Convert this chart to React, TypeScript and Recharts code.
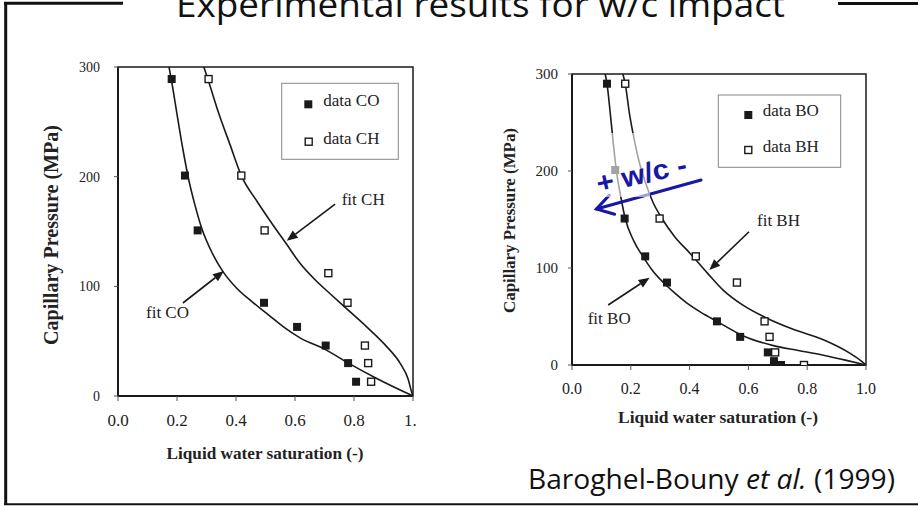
import React from "react";
import {
  ComposedChart,
  Line,
  Scatter,
  XAxis,
  YAxis,
  ReferenceArea,
  ReferenceLine,
} from "recharts";

// saturation ticks / pressure ticks (MPa)
const xTicks = [0, 0.2, 0.4, 0.6, 0.8, 1];
const yTicks = [0, 100, 200, 300];

// left panel: CO / CH
const dataCO = [
  { x: 0.182, y: 289 },
  { x: 0.227, y: 201 },
  { x: 0.27, y: 151 },
  { x: 0.495, y: 85 },
  { x: 0.607, y: 63 },
  { x: 0.704, y: 46 },
  { x: 0.78, y: 30 },
  { x: 0.807, y: 13 },
];
const dataCH = [
  { x: 0.307, y: 289 },
  { x: 0.418, y: 201 },
  { x: 0.497, y: 151 },
  { x: 0.713, y: 112 },
  { x: 0.778, y: 85 },
  { x: 0.837, y: 46 },
  { x: 0.848, y: 30 },
  { x: 0.858, y: 13 },
];
const fitCO = [
  { x: 0.173, y: 300 },
  { x: 0.185, y: 282 },
  { x: 0.2, y: 257 },
  { x: 0.22, y: 225 },
  { x: 0.24, y: 197 },
  { x: 0.26, y: 175 },
  { x: 0.285, y: 152 },
  { x: 0.32, y: 130 },
  { x: 0.357, y: 113 },
  { x: 0.4, y: 99 },
  { x: 0.459, y: 85 },
  { x: 0.51, y: 74 },
  { x: 0.561, y: 63 },
  { x: 0.617, y: 53 },
  { x: 0.702, y: 42.5 },
  { x: 0.781, y: 30 },
  { x: 0.877, y: 16 },
  { x: 1.0, y: 0 },
];
const fitCH = [
  { x: 0.291, y: 300 },
  { x: 0.307, y: 287 },
  { x: 0.34, y: 259 },
  { x: 0.38, y: 229 },
  { x: 0.418, y: 201 },
  { x: 0.47, y: 178 },
  { x: 0.52, y: 158 },
  { x: 0.57, y: 139 },
  { x: 0.617, y: 121 },
  { x: 0.668, y: 106 },
  { x: 0.72, y: 93 },
  { x: 0.769, y: 81 },
  { x: 0.843, y: 63 },
  { x: 0.911, y: 45 },
  { x: 0.956, y: 30 },
  { x: 0.984, y: 15 },
  { x: 0.996, y: 3 },
  { x: 1.0, y: 0 },
];

// right panel: BO / BH
const dataBO = [
  { x: 0.119, y: 290 },
  { x: 0.147, y: 201 },
  { x: 0.179, y: 151 },
  { x: 0.249, y: 112 },
  { x: 0.323, y: 85 },
  { x: 0.493, y: 45 },
  { x: 0.572, y: 29 },
  { x: 0.666, y: 13 },
  { x: 0.687, y: 4 },
  { x: 0.711, y: 0 },
];
const dataBH = [
  { x: 0.181, y: 290 },
  { x: 0.298, y: 151 },
  { x: 0.421, y: 112 },
  { x: 0.561, y: 85 },
  { x: 0.655, y: 45 },
  { x: 0.672, y: 29 },
  { x: 0.691, y: 13 },
  { x: 0.789, y: 0 },
];
const fitBO = [
  { x: 0.113, y: 300 },
  { x: 0.119, y: 290 },
  { x: 0.13, y: 260 },
  { x: 0.14, y: 230 },
  { x: 0.151, y: 200 },
  { x: 0.165, y: 175 },
  { x: 0.181, y: 151 },
  { x: 0.21, y: 128 },
  { x: 0.243, y: 111 },
  { x: 0.275, y: 97 },
  { x: 0.311, y: 85 },
  { x: 0.35, y: 74 },
  { x: 0.39, y: 64 },
  { x: 0.44, y: 54 },
  { x: 0.493, y: 45 },
  { x: 0.583, y: 30 },
  { x: 0.685, y: 20 },
  { x: 0.77, y: 15 },
  { x: 0.855, y: 10 },
  { x: 0.93, y: 5 },
  { x: 1.0, y: 0 },
];
const fitBH = [
  { x: 0.173, y: 300 },
  { x: 0.181, y: 290 },
  { x: 0.195, y: 260 },
  { x: 0.21, y: 235 },
  { x: 0.228, y: 210 },
  { x: 0.25, y: 188 },
  { x: 0.275, y: 168 },
  { x: 0.306, y: 151 },
  { x: 0.35, y: 132 },
  { x: 0.402, y: 115 },
  { x: 0.46, y: 95 },
  { x: 0.515, y: 77 },
  { x: 0.58, y: 62 },
  { x: 0.651, y: 50 },
  { x: 0.75, y: 37 },
  { x: 0.855, y: 26 },
  { x: 0.946, y: 12 },
  { x: 0.98, y: 5 },
  { x: 1.0, y: 0 },
];

// annotation arrows (tail -> tip), in data units
const arrowCH = [{ x: 0.736, y: 175 }, { x: 0.572, y: 141.6 }];
const arrowCO = [{ x: 0.22, y: 84.8 }, { x: 0.359, y: 114 }];
const arrowBH = [{ x: 0.602, y: 137.4 }, { x: 0.467, y: 97.9 }];
const arrowBO = [{ x: 0.123, y: 61.9 }, { x: 0.264, y: 90 }];
const arrowWC = [{ x: 0.439, y: 190.7 }, { x: 0.083, y: 160.8 }];

const serif = "'Liberation Serif', 'DejaVu Serif', serif";
const ink = "#1a1a1a";
const blue = "#1818a4";

const filledSq = (s: number) => (p: any) => (
  <rect x={p.cx - s / 2} y={p.cy - s / 2} width={s} height={s} fill={ink} />
);
const openSq = (s: number) => (p: any) => (
  <rect
    x={p.cx - s / 2}
    y={p.cy - s / 2}
    width={s}
    height={s}
    fill="#fff"
    stroke={ink}
    strokeWidth={1.4}
  />
);

const arrow = (p: any) => {
  const { x1, y1, x2, y2 } = p;
  const a = Math.atan2(y2 - y1, x2 - x1);
  const L = 11;
  const W = 4.5;
  const bx = x2 - L * Math.cos(a);
  const by = y2 - L * Math.sin(a);
  const nx = -Math.sin(a) * W;
  const ny = Math.cos(a) * W;
  return (
    <g>
      <line x1={x1} y1={y1} x2={bx} y2={by} stroke={ink} strokeWidth={1.6} />
      <polygon
        points={`${x2},${y2} ${bx + nx},${by + ny} ${bx - nx},${by - ny}`}
        fill={ink}
      />
    </g>
  );
};

const blueArrow = (p: any) => {
  const { x1, y1, x2, y2 } = p;
  const a = Math.atan2(y2 - y1, x2 - x1);
  const L = 19;
  const s = 0.55;
  const ax = x2 - L * Math.cos(a - s);
  const ay = y2 - L * Math.sin(a - s);
  const bx = x2 - L * Math.cos(a + s);
  const by = y2 - L * Math.sin(a + s);
  return (
    <g stroke={blue} strokeWidth={3} fill="none" strokeLinecap="round">
      <line x1={x1} y1={y1} x2={x2} y2={y2} />
      <polyline points={`${ax},${ay} ${x2},${y2} ${bx},${by}`} />
    </g>
  );
};

const xTick = (fs: number, cut: boolean) => (p: any) => {
  const v = p.payload.value;
  const last = cut && v === 1;
  return (
    <text
      x={last ? p.x - 9 : p.x}
      y={p.y}
      dy="0.71em"
      textAnchor={last ? "start" : "middle"}
      fontFamily={serif}
      fontSize={fs}
      fill="#222"
    >
      {last ? "1." : v.toFixed(1)}
    </text>
  );
};

function Panel(props: any) {
  const {
    left, width, margin, yTickSize, yTickMargin, xFont, cut,
    fitA, fitB, dotsA, dotsB, sq, arrows, extra,
  } = props;
  return (
    <div style={{ position: "absolute", left, top: 0 }}>
      <ComposedChart width={width} height={506} margin={margin}>
        <XAxis
          type="number"
          dataKey="x"
          domain={[0, 1]}
          ticks={xTicks}
          height={30}
          tickSize={5}
          tickMargin={13}
          axisLine={{ stroke: ink, strokeWidth: 2 }}
          tickLine={{ stroke: "#555" }}
          tick={xTick(xFont, cut)}
          allowDataOverflow
        />
        <YAxis
          type="number"
          dataKey="y"
          domain={[0, 300]}
          ticks={yTicks}
          width={60}
          tickSize={4}
          tickMargin={yTickMargin}
          axisLine={{ stroke: ink, strokeWidth: 2 }}
          tickLine={{ stroke: "#555" }}
          tick={{ fontFamily: serif, fontSize: yTickSize, fill: "#222" }}
          allowDataOverflow
        />
        <ReferenceArea
          x1={0}
          x2={1}
          y1={0}
          y2={300}
          fill="none"
          fillOpacity={0}
          stroke={ink}
          strokeWidth={1.5}
        />
        <Line data={fitA} dataKey="y" type="monotone" stroke={ink} strokeWidth={1.6} dot={false} isAnimationActive={false} />
        <Line data={fitB} dataKey="y" type="monotone" stroke={ink} strokeWidth={1.6} dot={false} isAnimationActive={false} />
        <Scatter data={dotsA} dataKey="y" shape={filledSq(sq)} isAnimationActive={false} />
        <Scatter data={dotsB} dataKey="y" shape={openSq(sq - 1)} isAnimationActive={false} />
        {arrows.map((seg: any, i: number) => (
          <ReferenceLine key={i} segment={seg} shape={arrow} />
        ))}
        {extra}
      </ComposedChart>
    </div>
  );
}

export default function App() {
  return (
    <div
      style={{
        position: "absolute",
        left: 0,
        top: 0,
        width: 918,
        height: 506,
        background: "#fff",
        overflow: "hidden",
      }}
    >
      <Panel
        left={0}
        width={460}
        margin={{ top: 67, right: 47, bottom: 80, left: 58 }}
        yTickSize={14}
        yTickMargin={14}
        xFont={17}
        cut
        fitA={fitCO}
        fitB={fitCH}
        dotsA={dataCO}
        dotsB={dataCH}
        sq={8}
        arrows={[arrowCH, arrowCO]}
      />
      <Panel
        left={460}
        width={458}
        margin={{ top: 74, right: 52, bottom: 111, left: 52 }}
        yTickSize={15}
        yTickMargin={10}
        xFont={16}
        cut={false}
        fitA={fitBO}
        fitB={fitBH}
        dotsA={dataBO}
        dotsB={dataBH}
        sq={8}
        arrows={[arrowBH, arrowBO]}
        extra={<ReferenceLine segment={arrowWC} shape={blueArrow} />}
      />

      <svg
        width={918}
        height={506}
        style={{ position: "absolute", left: 0, top: 0, pointerEvents: "none" }}
      >
        {/* slide frame */}
        <g stroke="#111" fill="none">
          <line x1={4} y1={3.2} x2={123} y2={3.2} strokeWidth={3} />
          <line x1={838} y1={3.6} x2={918} y2={3.6} strokeWidth={3} />
          <line x1={5.7} y1={2} x2={5.7} y2={505} strokeWidth={3} />
          <line x1={4} y1={504.3} x2={918} y2={504.3} strokeWidth={2} />
        </g>
        <text
          x={176}
          y={17}
          fontFamily="'Open Sans', 'Noto Sans', sans-serif"
          fontSize={34}
          textLength={609}
          lengthAdjust="spacingAndGlyphs"
          fill="#111"
        >
          Experimental results for w/c impact
        </text>

        {/* faded patch under the w/c note */}
        <rect x={576} y={133} width={74} height={64} fill="#fff" opacity={0.6} />

        {/* axis titles */}
        <g fontFamily={serif} fontWeight={700} fill="#222" textAnchor="middle">
          <text x={58} y={235} fontSize={20} textLength={220} lengthAdjust="spacingAndGlyphs" transform="rotate(-90 58 235)">
            Capillary Pressure (MPa)
          </text>
          <text x={265} y={459} fontSize={17} textLength={197} lengthAdjust="spacingAndGlyphs">
            Liquid water saturation (-)
          </text>
          <text x={514.5} y={220.5} fontSize={17} textLength={185} lengthAdjust="spacingAndGlyphs" transform="rotate(-90 514.5 220.5)">
            Capillary Pressure (MPa)
          </text>
          <text x={718} y={423} fontSize={16} textLength={200} lengthAdjust="spacingAndGlyphs">
            Liquid water saturation (-)
          </text>
        </g>

        {/* legends */}
        <rect x={281.7} y={83.3} width={116.6} height={76} fill="none" stroke="#888" strokeWidth={1} />
        <rect x={304.3} y={100.3} width={8} height={8} fill={ink} />
        <rect x={305.2} y={138.2} width={7} height={7} fill="#fff" stroke={ink} strokeWidth={1.4} />
        <rect x={718.3} y={95} width={122.4} height={72.3} fill="none" stroke="#888" strokeWidth={1} />
        <rect x={744.3} y={111} width={8} height={8} fill={ink} />
        <rect x={744.8} y={146.5} width={7} height={7} fill="#fff" stroke={ink} strokeWidth={1.4} />
        <g fontFamily={serif} fontSize={17} fill="#222">
          <text x={323.3} y={106}>data CO</text>
          <text x={323.3} y={144}>data CH</text>
          <text x={762.7} y={116}>data BO</text>
          <text x={762.7} y={151.5}>data BH</text>
          <text x={341.7} y={205}>fit CH</text>
          <text x={146} y={318}>fit CO</text>
          <text x={757} y={226}>fit BH</text>
          <text x={587.7} y={324}>fit BO</text>
        </g>

        {/* w/c note */}
        <text
          x={641.5}
          y={183.5}
          transform="rotate(-12.5 641.5 173.5)"
          fontFamily="'Liberation Sans', Arial, sans-serif"
          fontWeight={700}
          fontSize={28}
          textAnchor="middle"
          textLength={92}
          lengthAdjust="spacingAndGlyphs"
          fill={blue}
        >
          + w/c -
        </text>

        {/* citation */}
        <text
          x={528}
          y={489}
          fontFamily="'Open Sans', 'Noto Sans', sans-serif"
          fontSize={28}
          textLength={367}
          lengthAdjust="spacingAndGlyphs"
          fill="#111"
        >
          Baroghel-Bouny <tspan fontStyle="italic">et al.</tspan> (1999)
        </text>
      </svg>
    </div>
  );
}
